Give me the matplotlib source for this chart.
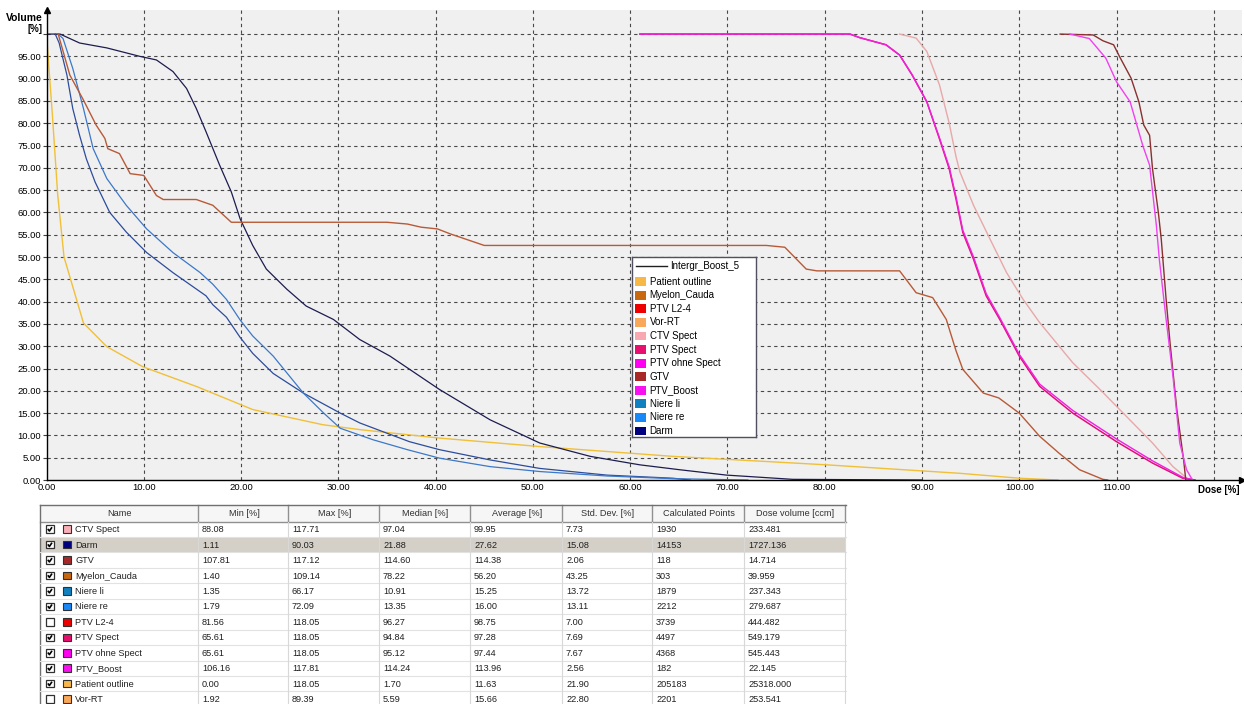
import matplotlib
matplotlib.use("Agg")
import matplotlib.pyplot as plt
from matplotlib.patches import Rectangle

# ---------------- DVH curves (dose [%], volume [%]) ----------------
patient_outline_dose = [0, 0.6, 1.15, 1.8, 3.1, 3.8, 6.2, 9.9, 15.5, 21.2, 28.4, 32.2, 40.4, 50.7, 64.4, 80.2, 93.9, 100.0, 104.0]
patient_outline_vol = [100, 82, 64, 50, 40.4, 35.2, 29.9, 25.4, 20.9, 15.8, 12.4, 11.3, 9.4, 7.5, 5.3, 3.4, 1.5, 0.4, 0]

darm_dose = [0, 1.4, 3.4, 6.2, 9.6, 11.3, 13.0, 14.4, 15.4, 16.4, 17.8, 19.0, 19.9, 21.2, 22.6, 24.7, 26.7, 29.5,
             32.2, 35.3, 40.4, 45.6, 50.7, 55.9, 61.0, 65.1, 69.9, 76.7, 90.0]
darm_vol = [100, 100, 98, 96.9, 95, 94.2, 91.6, 87.8, 83.3, 78.1, 70.6, 64.6, 58.6, 52.6, 47.3, 42.8, 39, 36,
            31.5, 27.8, 20.3, 13.5, 8.3, 5.3, 3.4, 2.3, 1.1, 0.15, 0]

niere_li_dose = [0.9, 1.3, 2.1, 2.7, 3.4, 4.1, 5.0, 6.5, 8.2, 10.3, 13.0, 16.4, 17.1, 18.5, 19.9, 21.2, 23.3, 26.4,
                 30.2, 32.2, 37.3, 40.4, 45.6, 50.7, 57.6, 64.4, 66.2]
niere_li_vol = [100, 98, 90.8, 83.3, 77.3, 72, 66.8, 60, 55.6, 51, 46.5, 41.3, 39.3, 36.5, 32, 28.4, 23.9, 19.5,
                15, 12.8, 8.6, 6.8, 4.5, 2.6, 1.1, 0.4, 0]

niere_re_dose = [1.2, 1.7, 2.7, 3.8, 4.8, 6.2, 8.2, 10.3, 13.0, 15.8, 17.1, 18.5, 19.9, 21.2, 23.3, 26.4, 28.5,
                 30.2, 33.6, 37.1, 40.4, 45.6, 50.7, 57.6, 64.4, 72.1]
niere_re_vol = [100, 99, 92.3, 83.3, 74.3, 67.6, 61.6, 56.3, 51, 46.5, 43.9, 40.5, 35.9, 32.3, 27.8, 19.5, 15,
                11.6, 9, 6.8, 4.9, 3, 1.9, 0.9, 0.3, 0]

myelon_dose = [1.2, 2.4, 3.8, 5.1, 6.0, 6.3, 7.5, 8.6, 10.0, 11.3, 12.0, 15.4, 17.1, 19.0, 35.0, 37.1, 38.5, 40.2,
               41.5, 45.0, 74.0, 75.9, 78.1, 79.2, 87.7, 89.4, 91.1, 92.5, 93.5, 94.2, 96.3, 97.9, 100.0, 102.1,
               104.1, 106.2, 108.6, 109.1]
myelon_vol = [100, 90.8, 85.2, 79.6, 76.6, 74.3, 73.2, 68.7, 68.3, 63.8, 62.9, 62.9, 61.6, 57.8, 57.8, 57.4, 56.7,
              56.3, 55.2, 52.6, 52.6, 52.2, 47.3, 46.9, 46.9, 42, 40.9, 36, 29, 24.8, 19.5, 18.4, 15, 9.8, 6,
              2.3, 0.15, 0]

ptv_spect_dose = [61.0, 82.6, 83.6, 86.3, 87.7, 89.0, 90.5, 91.8, 92.8, 93.5, 94.2, 95.3, 96.6, 98.0, 100.0, 102.1,
                  105.5, 110.0, 113.7, 116.8, 118.05]
ptv_spect_vol = [100, 100, 99.2, 97.6, 95.3, 90.8, 84.8, 76.5, 69.8, 63, 55.5, 49.5, 41.3, 36, 27.8, 21, 15, 8.6,
                 3.8, 0.4, 0]

ptv_ohne_dose = [61.0, 82.6, 83.6, 86.3, 87.7, 89.0, 90.5, 91.8, 92.8, 93.5, 94.2, 95.3, 96.6, 98.0, 100.0, 102.1,
                 105.5, 110.0, 113.7, 116.9, 118.05]
ptv_ohne_vol = [100, 100, 99.2, 97.6, 95.3, 90.8, 84.8, 76.7, 70.2, 63.5, 56, 50, 41.8, 36.4, 28.2, 21.5, 15.6, 9.2,
                4.3, 0.5, 0]

ctv_spect_dose = [87.7, 89.4, 90.5, 91.8, 92.8, 93.5, 93.9, 95.3, 97.0, 98.7, 100.4, 102.1, 105.5, 108.3, 111.0,
                  113.7, 115.8, 117.3, 117.71]
ctv_spect_vol = [100, 99.1, 96.1, 88.6, 80, 72.5, 69.1, 61.6, 54, 46.5, 40.5, 35.3, 26.3, 20.3, 14.3, 8.3, 3, 0.3, 0]

gtv_dose = [104.2, 107.6, 108.6, 109.7, 110.3, 111.5, 112.3, 112.8, 113.4, 113.7, 114.3, 114.6, 115.1, 115.5,
            116.2, 116.9, 117.12]
gtv_vol = [100, 99.8, 98.5, 97.6, 95, 90.1, 84.8, 79.6, 77.3, 69.8, 60, 54, 40.5, 30.8, 15.8, 4.5, 0]

ptv_boost_dose = [105.2, 107.2, 108.9, 110.0, 111.4, 112.7, 113.4, 114.1, 114.4, 115.1, 115.8, 116.5, 117.2, 117.81]
ptv_boost_vol = [100, 99, 94.6, 89.3, 84.8, 75, 70.6, 57, 49.5, 36, 23.3, 8.3, 2.3, 0]

# ---------------- legend ----------------
legend_title = "Intergr_Boost_5"
legend_names = ["Patient outline", "Myelon_Cauda", "PTV L2-4", "Vor-RT", "CTV Spect", "PTV Spect",
                "PTV ohne Spect", "GTV", "PTV_Boost", "Niere li", "Niere re", "Darm"]
legend_colors = ["#f8b848", "#c86810", "#ee0000", "#f8a858", "#f8a8b0", "#e8106e",
                 "#ff00f0", "#a82828", "#f810f0", "#1080c0", "#1888f8", "#000080"]

# ---------------- statistics table ----------------
table_header = ["Name", "Min [%]", "Max [%]", "Median [%]", "Average [%]", "Std. Dev. [%]",
                "Calculated Points", "Dose volume [ccm]"]
table_names = ["CTV Spect", "Darm", "GTV", "Myelon_Cauda", "Niere li", "Niere re", "PTV L2-4", "PTV Spect",
               "PTV ohne Spect", "PTV_Boost", "Patient outline", "Vor-RT"]
table_checked = [True, True, True, True, True, True, False, True, True, True, True, False]
table_colors = ["#f8b0b8", "#000080", "#a82828", "#c86810", "#1080c0", "#1888f8", "#ee0000", "#e8106e",
                "#ff00f0", "#f810f0", "#f8b848", "#f8a858"]
table_min = ["88.08", "1.11", "107.81", "1.40", "1.35", "1.79", "81.56", "65.61", "65.61", "106.16", "0.00", "1.92"]
table_max = ["117.71", "90.03", "117.12", "109.14", "66.17", "72.09", "118.05", "118.05", "118.05", "117.81",
             "118.05", "89.39"]
table_median = ["97.04", "21.88", "114.60", "78.22", "10.91", "13.35", "96.27", "94.84", "95.12", "114.24",
                "1.70", "5.59"]
table_average = ["99.95", "27.62", "114.38", "56.20", "15.25", "16.00", "98.75", "97.28", "97.44", "113.96",
                 "11.63", "15.66"]
table_std = ["7.73", "15.08", "2.06", "43.25", "13.72", "13.11", "7.00", "7.69", "7.67", "2.56", "21.90", "22.80"]
table_points = ["1930", "14153", "118", "303", "1879", "2212", "3739", "4497", "4368", "182", "205183", "2201"]
table_volume = ["233.481", "1727.136", "14.714", "39.959", "237.343", "279.687", "444.482", "549.179",
                "545.443", "22.145", "25318.000", "253.541"]
highlight_row = "Darm"

# ---------------- figure ----------------
W, H = 1244, 704
fig = plt.figure(figsize=(W / 100, H / 100), dpi=100)
fig.patch.set_facecolor("white")
FONT = "Liberation Sans"


def px_axes(x0, y0, x1, y1):
    return fig.add_axes([x0 / W, 1 - y1 / H, (x1 - x0) / W, (y1 - y0) / H])


ax = px_axes(46.5, 10, 1242, 480)
ax.set_facecolor("#f0f0f0")
ax.set_xlim(0, 122.9)
ax.set_ylim(0, 105.4)

curves = [
    (patient_outline_dose, patient_outline_vol, "#f0c038", 1.0),
    (darm_dose, darm_vol, "#1c1c50", 0.9),
    (niere_li_dose, niere_li_vol, "#2c4c9c", 0.9),
    (niere_re_dose, niere_re_vol, "#3c78c8", 0.9),
    (myelon_dose, myelon_vol, "#b85a38", 1.0),
    (ctv_spect_dose, ctv_spect_vol, "#e8a8a8", 1.0),
    (ptv_spect_dose, ptv_spect_vol, "#e0107a", 1.1),
    (ptv_ohne_dose, ptv_ohne_vol, "#f020e0", 1.0),
    (gtv_dose, gtv_vol, "#8a3030", 1.0),
    (ptv_boost_dose, ptv_boost_vol, "#f040f0", 1.0),
]
for d, v, c, lw in curves:
    ax.plot(d, v, color=c, lw=lw, zorder=3, solid_joinstyle="round")

xt = list(range(0, 130, 10))
ax.set_xticks(xt)
ax.set_xticklabels([f"{t:.2f}" if t < 120 else "" for t in xt], fontsize=6.8, family=FONT)
yt = list(range(0, 101, 5))
ax.set_yticks(yt)
ax.set_yticklabels([f"{t:.2f}" if t < 100 else "" for t in yt], fontsize=6.8, family=FONT)
ax.tick_params(axis="x", length=0, pad=2.5)
ax.tick_params(axis="y", length=3, width=0.8, pad=1, color="#404040")

grid_kw = dict(color="#484848", lw=0.8, linestyle=(0, (3, 3)), zorder=1)
for t in xt[1:]:
    ax.axvline(t, **grid_kw)
for t in yt[1:]:
    ax.axhline(t, **grid_kw)

for s in ["top", "right"]:
    ax.spines[s].set_visible(False)
for s in ["left", "bottom"]:
    ax.spines[s].set_color("black")
    ax.spines[s].set_linewidth(1.0)
    ax.spines[s].set_zorder(4)
ax.plot([0], [1], marker="^", ms=4, color="black", transform=ax.transAxes, clip_on=False, zorder=5)
ax.plot([1], [0], marker=">", ms=4, color="black", transform=ax.transAxes, clip_on=False, zorder=5)

fig.text(6 / W, 1 - 18 / H, "Volume", fontsize=7.5, fontweight="bold", family=FONT, va="center", ha="left")
fig.text(43 / W, 1 - 29 / H, "[%]", fontsize=7, fontweight="bold", family=FONT, va="center", ha="right")
fig.text(1240 / W, 1 - 490 / H, "Dose [%]", fontsize=7, fontweight="bold", family=FONT, va="center", ha="right")

# ---------------- legend box ----------------
lg = px_axes(632, 257, 756, 437)
lg.set_xlim(632, 756)
lg.set_ylim(437, 257)
lg.set_facecolor("white")
lg.set_xticks([])
lg.set_yticks([])
for s in lg.spines.values():
    s.set_color("#505060")
    s.set_linewidth(1.0)
lg.set_zorder(6)
lg.plot([636, 667], [266.5, 266.5], color="#202020", lw=1.0)
lg.text(670.5, 266.5, legend_title, fontsize=7, family=FONT, va="center", ha="left")
for i, (nm, col) in enumerate(zip(legend_names, legend_colors)):
    yc = 281.7 + i * 13.57
    lg.add_patch(Rectangle((635, yc - 4.4), 10.6, 8.8, facecolor=col, edgecolor="none"))
    lg.text(649.5, yc, nm, fontsize=7, family=FONT, va="center", ha="left")

# ---------------- statistics table ----------------
tb = px_axes(0, 495, W, H)
tb.set_xlim(0, W)
tb.set_ylim(H, 495)
tb.axis("off")
col_edges = [40, 199, 289, 380, 471, 563, 653, 745, 846]
head_top, head_bot = 505, 521.5
row_h = 15.45

tb.add_patch(Rectangle((col_edges[0], head_top), col_edges[-1] - col_edges[0], head_bot - head_top,
                       facecolor="#f6f6f6", edgecolor="none"))
for j, lab in enumerate(table_header):
    xc = (col_edges[j] + col_edges[j + 1]) / 2
    tb.text(xc, (head_top + head_bot) / 2 + 0.5, lab, fontsize=6.6, family=FONT, color="#303030",
            ha="center", va="center")
for xe in col_edges[1:]:
    tb.plot([xe - 1, xe - 1], [head_top, head_bot], color="#909090", lw=1.0)
tb.plot([col_edges[0], col_edges[-1]], [head_bot, head_bot], color="#909090", lw=1.0)
tb.plot([col_edges[0], col_edges[-1]], [head_top, head_top], color="#707070", lw=1.0)
tb.plot([col_edges[0], col_edges[0]], [head_top, H], color="#707070", lw=1.0)

columns = [table_min, table_max, table_median, table_average, table_std, table_points, table_volume]
for i, nm in enumerate(table_names):
    top = head_bot + i * row_h
    yc = top + row_h / 2
    if nm == highlight_row:
        tb.add_patch(Rectangle((col_edges[0] + 1, top), col_edges[-1] - col_edges[0] - 1, row_h,
                               facecolor="#d4d0c8", edgecolor="none"))
    tb.plot([col_edges[0], col_edges[-1]], [top + row_h, top + row_h], color="#e2e2e2", lw=0.8)
    # checkbox
    tb.add_patch(Rectangle((46, yc - 3.8), 7.5, 7.5, facecolor="white", edgecolor="#303030", lw=0.9))
    if table_checked[i]:
        tb.plot([47.8, 49.4, 52.0], [yc - 0.3, yc + 1.8, yc - 2.0], color="black", lw=1.2,
                solid_capstyle="butt")
    # colour swatch
    tb.add_patch(Rectangle((63.3, yc - 3.8), 7.5, 7.5, facecolor=table_colors[i], edgecolor="#303030", lw=0.8))
    tb.text(75, yc + 0.5, nm, fontsize=6.6, family=FONT, color="#202020", ha="left", va="center")
    for j, colvals in enumerate(columns):
        tb.text(col_edges[j + 1] + 3, yc + 0.5, colvals[i], fontsize=6.6, family=FONT, color="#202020",
                ha="left", va="center")
for xe in col_edges[1:]:
    tb.plot([xe - 1, xe - 1], [head_bot, H], color="#d8d8d8", lw=0.8)

fig.savefig("out.png", dpi=100, facecolor="white")
